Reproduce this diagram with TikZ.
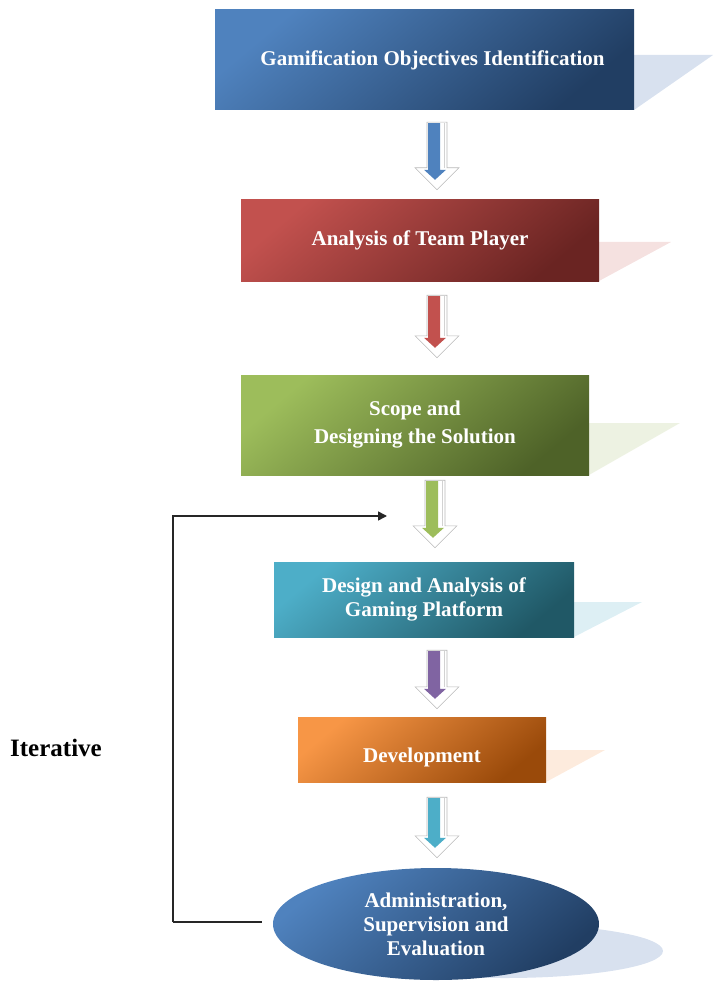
\documentclass[tikz,border=0pt]{standalone}
\usepackage{fontspec}
\setmainfont{Liberation Serif}
\usetikzlibrary{calc,arrows.meta,shapes.geometric}

% palette
\definecolor{blueL}{HTML}{4F82BE}
\definecolor{blueD}{HTML}{213E63}
\definecolor{blueS}{HTML}{D8E1EF}
\definecolor{redL}{HTML}{C2514E}
\definecolor{redD}{HTML}{6A2422}
\definecolor{redS}{HTML}{F5E1E0}
\definecolor{greenL}{HTML}{9DBD5B}
\definecolor{greenD}{HTML}{4E6228}
\definecolor{greenS}{HTML}{EDF2E2}
\definecolor{tealL}{HTML}{4DAEC8}
\definecolor{tealD}{HTML}{205866}
\definecolor{tealS}{HTML}{DDEFF4}
\definecolor{orangeL}{HTML}{F79646}
\definecolor{orangeD}{HTML}{9A4A0A}
\definecolor{orangeS}{HTML}{FDEBDD}
\definecolor{purpleA}{HTML}{8064A2}

\tikzset{
  stepbox/.style={rectangle, inner sep=0pt, text=white, align=center,
    font=\bfseries\fontsize{21}{24}\selectfont},
  shade2/.style 2 args={top color=#1, bottom color=#2, shading angle=40},
  loopline/.style={draw=black!85, line width=1.6pt},
}

% block arrow between two nodes: colour, upper node, lower node, x, top gap, bottom gap
\newcommand\flowarrow[6]{%
  \draw[gray!55, fill=white, line width=0.6pt]
    let \p1=(#2.south), \p2=(#3.north) in
    ({#4pt-10pt},{\y1-#5pt}) -- ({#4pt+10pt},{\y1-#5pt})
    -- ({#4pt+10pt},{\y2+#6pt+22pt}) -- ({#4pt+22pt},{\y2+#6pt+22pt})
    -- ({#4pt},{\y2+#6pt}) -- ({#4pt-22pt},{\y2+#6pt+22pt})
    -- ({#4pt-10pt},{\y2+#6pt+22pt}) -- cycle;
  \draw[gray!35, line width=1pt]
    let \p1=(#2.south), \p2=(#3.north) in
    ({#4pt+7pt},{\y1-#5pt-1pt}) -- ({#4pt+7pt},{\y2+#6pt+22pt});
  \fill[#1]
    let \p1=(#2.south), \p2=(#3.north) in
    ({#4pt-9pt},{\y1-#5pt-1pt}) -- ({#4pt+3pt},{\y1-#5pt-1pt})
    -- ({#4pt+3pt},{\y2+#6pt+20pt}) -- ({#4pt+9pt},{\y2+#6pt+20pt})
    -- ({#4pt-2pt},{\y2+#6pt+10pt}) -- ({#4pt-13pt},{\y2+#6pt+20pt})
    -- ({#4pt-9pt},{\y2+#6pt+20pt}) -- cycle;
}

\begin{document}
\begin{tikzpicture}[x=1pt,y=-1pt]
\useasboundingbox (0,0) rectangle (714,981);

% receding shadows behind the boxes
\fill[blueS]   (634,55)  -- (713,55)  -- (634,110) -- cycle;
\fill[redS]    (599,242) -- (671,242) -- (599,281) -- cycle;
\fill[greenS]  (589,423) -- (680,423) -- (589,475) -- cycle;
\fill[tealS]   (574,602) -- (642,602) -- (574,637) -- cycle;
\fill[orangeS] (546,750) -- (605,750) -- (546,782) -- cycle;
\fill[blueS]   (505,951) ellipse [x radius=158, y radius=27];

% process steps
\node[stepbox, shade2={blueL}{blueD}, minimum width=419, minimum height=100]
  (s1) at (424.5,60) {\hspace*{16pt}Gamification Objectives Identification};
\node[stepbox, shade2={redL}{redD}, minimum width=358, minimum height=81]
  (s2) at (420,240.5) {Analysis of Team Player};
\node[stepbox, shade2={greenL}{greenD}, minimum width=348, minimum height=100,
  font=\bfseries\fontsize{21}{28}\selectfont]
  (s3) at (415,425) {Scope and\\Designing the Solution};
\node[stepbox, shade2={tealL}{tealD}, minimum width=300, minimum height=75]
  (s4) at (424,599.5) {Design and Analysis of\\Gaming Platform};
\node[stepbox, shade2={orangeL}{orangeD}, minimum width=248, minimum height=65,
  text height=30pt, text depth=5pt]
  (s5) at (422,749.5) {Development};
\node[stepbox, ellipse, shade2={blueL}{blueD}, minimum width=326, minimum height=112]
  (s6) at (436,924) {Administration,\\Supervision and\\Evaluation};

% flow arrows
\flowarrow{blueL}{s1}{s2}{437}{12}{10}
\flowarrow{redL}{s2}{s3}{437}{14}{17}
\flowarrow{greenL}{s3}{s4}{435}{5}{14}
\flowarrow{purpleA}{s4}{s5}{437}{13}{8}
\flowarrow{tealL}{s5}{s6}{437}{15}{10}

% iteration loop back to the design stage
\coordinate (loopout) at ($(s6.west)+(-11,-2)$);
\coordinate (loopcorner) at (173,922);
\coordinate (loopin) at (387,516);
\draw[loopline] (loopout) -- (loopcorner);
\draw[loopline, -{Triangle[length=9pt,width=9pt]}] (loopcorner) |- (loopin);

\node[font=\bfseries\fontsize{25}{28}\selectfont] (iter) at (56,748) {Iterative};
\end{tikzpicture}
\end{document}
